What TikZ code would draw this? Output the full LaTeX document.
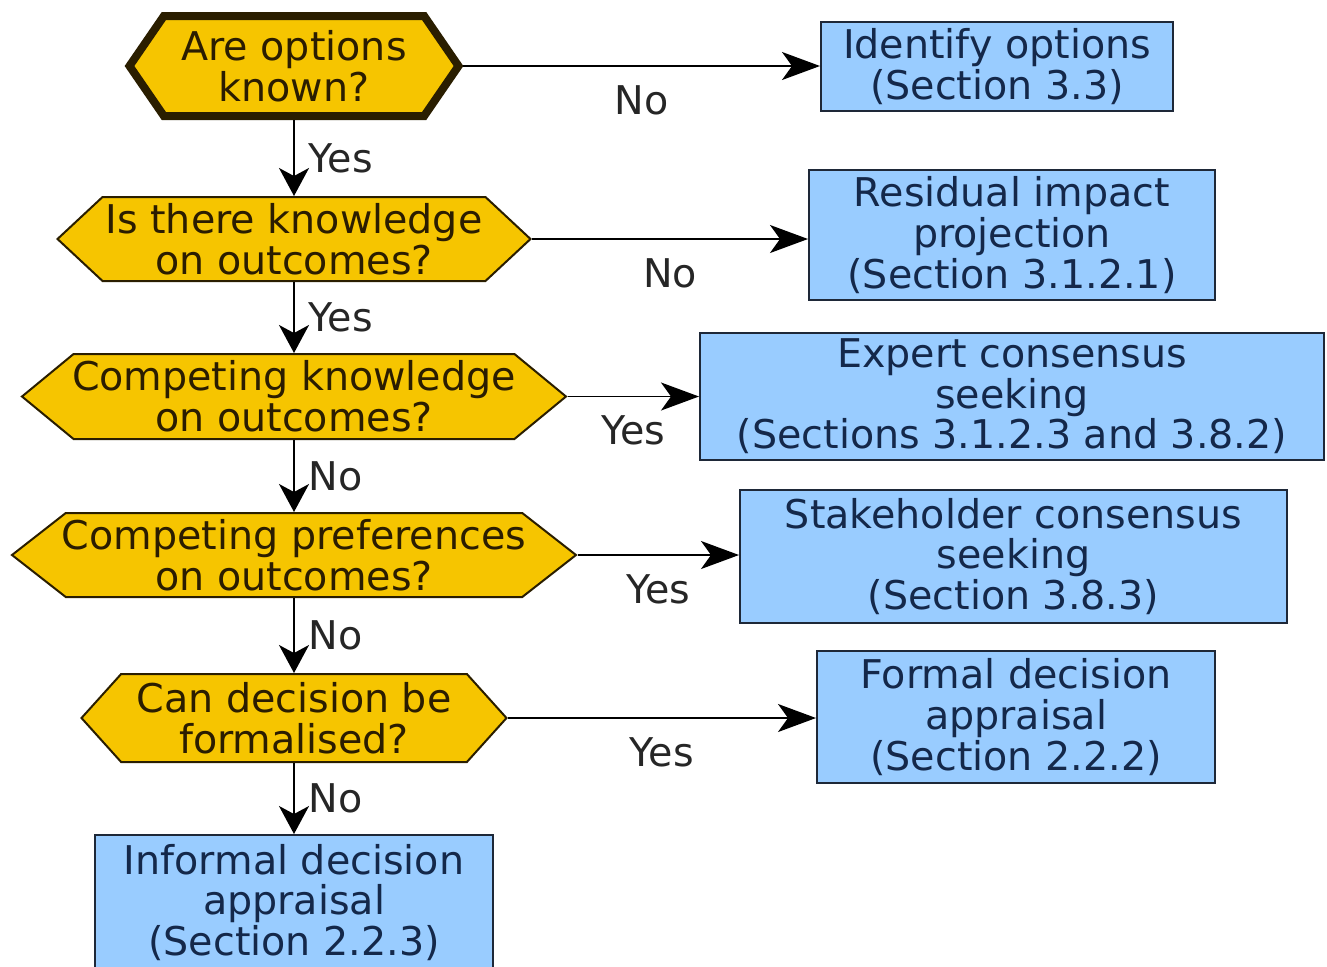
\documentclass[tikz,border=0pt]{standalone}
\usepackage{fontspec}
\setmainfont{DejaVu Sans}
\usetikzlibrary{shapes.symbols,arrows.meta}
\definecolor{qfill}{HTML}{F6C500}
\definecolor{qline}{HTML}{2A1E00}
\definecolor{qtext}{HTML}{2B1D00}
\definecolor{bfill}{HTML}{99CCFF}
\definecolor{bline}{HTML}{1E2838}
\definecolor{btext}{HTML}{14284A}
\tikzset{
  question/.style={shape=signal, signal to=east and west, draw=qline, fill=qfill,
    line width=1pt, text=qtext, align=center, inner sep=0pt},
  qsize/.style n args={3}{minimum width=#1*0.5pt, minimum height=#2*0.5pt,
    signal pointer angle=#3},
  action/.style={shape=rectangle, draw=bline, fill=bfill, line width=1pt,
    text=btext, align=center, inner sep=0pt},
  bsize/.style 2 args={minimum width=#1*0.5pt, minimum height=#2*0.5pt},
  harrow/.style={draw=black, line width=0.9pt,
    -{Stealth[length=19pt, width=14pt, inset=5pt]}},
  varrow/.style={draw=black, line width=0.9pt,
    -{Stealth[length=14pt, width=15pt, inset=4pt]}},
  hlab/.style={midway, yshift=-17pt, inner sep=0pt, text=black!85},
  vlab/.style={midway, anchor=west, xshift=7pt, inner sep=0pt, text=black!85},
}
\begin{document}
\begin{tikzpicture}[x=0.5pt, y=-0.5pt, font=\fontsize{19.8}{20.3}\selectfont]
\useasboundingbox (0,0) rectangle (1327,966);

% decision hexagons (long texts may run up to the border)
\node[question, qsize={329}{100}{111}, line width=4pt] (q1) at (294,66)
  {Are options\\known?};
\node[question, qsize={473}{84}{86}] (q2) at (294,239)
  {Is there knowledge\\on outcomes?};
\node[question, qsize={544}{85}{79}, inner xsep=-1pt] (q3) at (294,396.5)
  {Competing knowledge\\on outcomes?};
\node[question, qsize={564}{84}{76}, inner xsep=-3pt] (q4) at (294,555)
  {Competing preferences\\on outcomes?};
\node[question, qsize={425}{88}{96}] (q5) at (294,718)
  {Can decision be\\formalised?};

% outcome boxes
\node[action, bsize={352}{89}] (b1) at (997,66.5)
  {Identify options\\(Section 3.3)};
\node[action, bsize={406}{130}] (b2) at (1012,235)
  {Residual impact\\projection\\(Section 3.1.2.1)};
\node[action, bsize={624}{127}] (b3) at (1012,396.5)
  {Expert consensus\\seeking\\(Sections 3.1.2.3 and 3.8.2)};
\node[action, bsize={547}{133}] (b4) at (1013.5,556.5)
  {Stakeholder consensus\\seeking\\(Section 3.8.3)};
\node[action, bsize={398}{132}] (b5) at (1016,717)
  {Formal decision\\appraisal\\(Section 2.2.2)};
\node[action, bsize={398}{135}] (b6) at (294,902.5)
  {Informal decision\\appraisal\\(Section 2.2.3)};

% branches to the right, level with each question
\draw[harrow] (q1.east) -- node[hlab] (l1) {No}  (q1.east -| b1.west);
\draw[harrow] (q2.east) -- node[hlab] (l2) {No}  (q2.east -| b2.west);
\draw[harrow] (q3.east) -- node[hlab] (l3) {Yes} (q3.east -| b3.west);
\draw[harrow] (q4.east) -- node[hlab] (l4) {Yes} (q4.east -| b4.west);
\draw[harrow] (q5.east) -- node[hlab] (l5) {Yes} (q5.east -| b5.west);

% main chain downwards
\draw[varrow] (q1.south) -- node[vlab] (m1) {Yes} (q2.north);
\draw[varrow] (q2.south) -- node[vlab] (m2) {Yes} (q3.north);
\draw[varrow] (q3.south) -- node[vlab] (m3) {No}  (q4.north);
\draw[varrow] (q4.south) -- node[vlab] (m4) {No}  (q5.north);
\draw[varrow] (q5.south) -- node[vlab] (m5) {No}  (b6.north);
\end{tikzpicture}
\end{document}
